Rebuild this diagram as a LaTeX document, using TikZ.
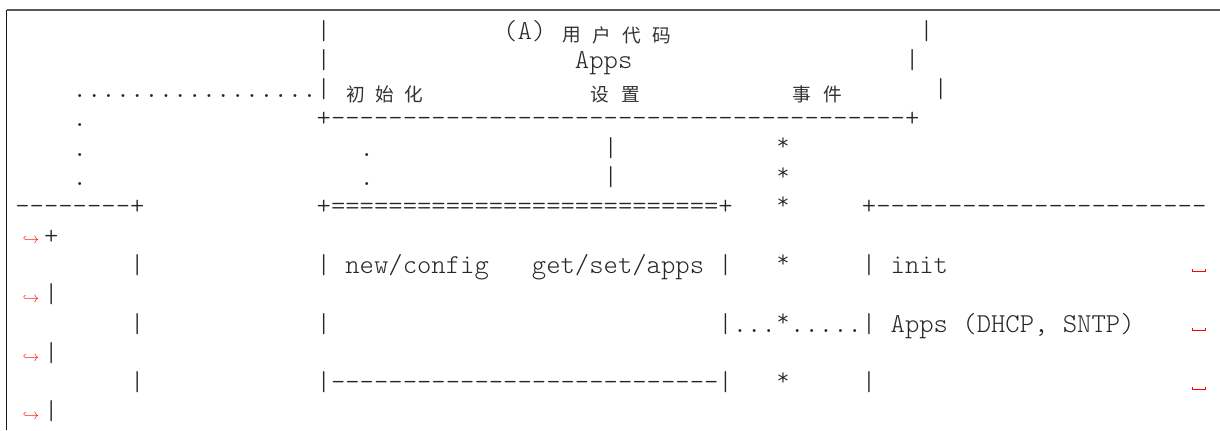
\documentclass[tikz,border=0pt]{standalone}
\usepackage{fontspec}
\setmonofont{lmmonolt10-regular.otf}
\newfontfamily\cjk{Noto Sans CJK SC}
\newcommand{\Lx}[1]{15.33+14.35*#1}
\newcommand{\By}[1]{9.7+29.3*#1}
\newcommand{\Cy}[1]{6.2+29.3*#1}
\newcommand{\st}{\makebox[0.525em]{\raisebox{0.2em}{\fontsize{18.5pt}{18.5pt}\selectfont *}}}
\tikzset{
  mono/.style={font=\ttfamily\fontsize{20.5pt}{24pt}\selectfont, anchor=base west, inner sep=0pt, outer sep=0pt, text=black!85},
  han/.style={font=\cjk\fontsize{14pt}{16pt}\selectfont, anchor=center, inner sep=0pt, outer sep=0pt, text=black!80},
  wrapmark/.style={font=\fontsize{11pt}{13pt}\selectfont, text=red, anchor=center, inner sep=0pt},
  vspacemark/.style={draw=red, line width=0.7pt},
  frameline/.style={line width=1.1pt}
}
\begin{document}
\begin{tikzpicture}[x=0.75pt,y=-0.75pt]
\useasboundingbox (0,0) rectangle (1220,430);
% frame
\coordinate (fc) at (6.6,9.8);
\coordinate (fr) at (1220,9.8);
\coordinate (fb) at (6.6,430);
\draw[frameline, draw=black!65] (fc) -- (fr);
\draw[frameline, draw=black!90] (fc) -- (fb);
% line 1
\node[mono] (l1a) at (\Lx{21},\By{1}) {|};
\node[mono] (l1b) at (\Lx{34},\By{1}) {(A)};
\node[han] (l1c) at (572,\Cy{1}) {用};
\node[han] (l1d) at (602,\Cy{1}) {户};
\node[han] (l1e) at (632,\Cy{1}) {代};
\node[han] (l1f) at (662,\Cy{1}) {码};
\node[mono] (l1g) at (\Lx{63},\By{1}) {|};
% line 2
\node[mono] (l2a) at (\Lx{21},\By{2}) {|};
\node[mono] (l2b) at (\Lx{39},\By{2}) {Apps};
\node[mono] (l2c) at (\Lx{62},\By{2}) {|};
% line 3
\node[mono] (l3a) at (\Lx{4},\By{3}) {.................|};
\node[han] (l3b) at (356,\Cy{3}) {初};
\node[han] (l3c) at (385,\Cy{3}) {始};
\node[han] (l3d) at (414,\Cy{3}) {化};
\node[han] (l3e) at (600,\Cy{3}) {设};
\node[han] (l3f) at (631,\Cy{3}) {置};
\node[han] (l3g) at (802,\Cy{3}) {事};
\node[han] (l3h) at (833,\Cy{3}) {件};
\node[mono] (l3i) at (\Lx{64},\By{3}) {|};
% line 4
\node[mono] (l4a) at (\Lx{4},\By{4}) {.};
\node[mono] (l4b) at (\Lx{21},\By{4}) {+----------------------------------------+};
% lines 5, 6
\foreach \k in {5,6}{
  \node[mono] (l\k a) at (\Lx{4},\By{\k}) {.};
  \node[mono] (l\k b) at (\Lx{24},\By{\k}) {.};
  \node[mono] (l\k c) at (\Lx{41},\By{\k}) {|};
  \node[mono] (l\k d) at (\Lx{53},\By{\k}) {\st};
}
% line 7
\node[mono] (l7a) at (\Lx{0},\By{7}) {--------+};
\node[mono] (l7b) at (\Lx{21},\By{7}) {+===========================+};
\node[mono] (l7c) at (\Lx{53},\By{7}) {\st};
\node[mono] (l7d) at (\Lx{59},\By{7}) {+-----------------------};
% line 8
\node[wrapmark] (w8) at (31,\Cy{8}) {$\hookrightarrow$};
\node[mono] (l8a) at (\Lx{2},\By{8}) {+};
% line 9
\node[mono] (l9a) at (\Lx{8},\By{9}) {|};
\node[mono] (l9b) at (\Lx{21},\By{9}) {|\ new/config\ \ \ get/set/apps\ |};
\node[mono] (l9c) at (\Lx{53},\By{9}) {\st};
\node[mono] (l9d) at (\Lx{59},\By{9}) {|\ init};
% line 10
\node[wrapmark] (w10) at (31,\Cy{10}) {$\hookrightarrow$};
\node[mono] (l10a) at (\Lx{2},\By{10}) {|};
% line 11
\node[mono] (l11a) at (\Lx{8},\By{11}) {|};
\node[mono] (l11b) at (\Lx{21},\By{11}) {|};
\node[mono] (l11c) at (\Lx{49},\By{11}) {|...\st.....|\ Apps\ (DHCP,\ SNTP)};
% line 12
\node[wrapmark] (w12) at (31,\Cy{12}) {$\hookrightarrow$};
\node[mono] (l12a) at (\Lx{2},\By{12}) {|};
% line 13
\node[mono] (l13a) at (\Lx{8},\By{13}) {|};
\node[mono] (l13b) at (\Lx{21},\By{13}) {|---------------------------|};
\node[mono] (l13c) at (\Lx{53},\By{13}) {\st};
\node[mono] (l13d) at (\Lx{59},\By{13}) {|};
% line 14
\node[wrapmark] (w14) at (31,\Cy{14}) {$\hookrightarrow$};
\node[mono] (l14a) at (\Lx{2},\By{14}) {|};
% visible-space marks
\foreach \k in {9,11,13}{
  \draw[vspacemark] (1192,\By{\k}-4) -- (1192,\By{\k}-1.5) -- (1205,\By{\k}-1.5) -- (1205,\By{\k}-4);
}
\end{tikzpicture}
\end{document}
